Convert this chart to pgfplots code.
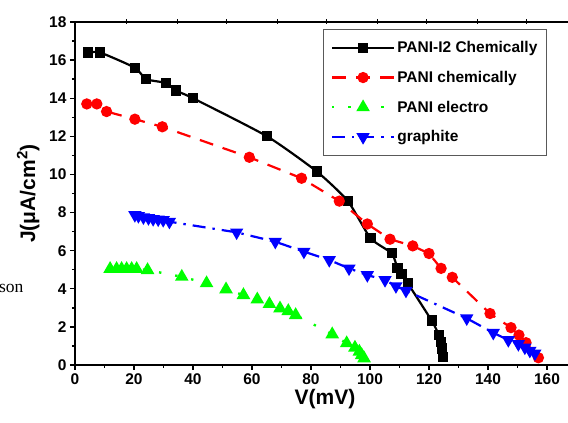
\documentclass[border=0pt]{standalone}
\usepackage{fontspec}
\setmainfont{Liberation Sans}
\newfontfamily\seriffont{Liberation Serif}
\usepackage{pgfplots}
\pgfplotsset{compat=1.18}
\usetikzlibrary{calc}

\begin{document}
\begin{tikzpicture}
\begin{axis}[name=main,
  scale only axis, width=500pt, height=343pt,
  xmin=0, xmax=169.5, ymin=0, ymax=18,
  xtick={0,20,...,160}, ytick={0,2,...,18},
  minor x tick num=1, minor y tick num=1,
  xtick pos=bottom, ytick pos=left,
  tick align=outside,
  major tick length=5pt, minor tick length=3pt,
  tick style={line width=1.4pt, black},
  axis line style={line width=2.2pt},
  /pgf/number format/assume math mode=true,
  tick label style={font=\bfseries\fontsize{15.5}{18}\selectfont},
  xlabel={V(mV)}, ylabel={J(μA/cm\textsuperscript{\fontsize{15}{15}\selectfont 2})},
  label style={font=\bfseries\fontsize{21}{24}\selectfont},
  xlabel style={yshift=2pt},
  ylabel style={yshift=3pt},
  legend style={at={(rel axis cs:0.944,0.98)}, anchor=north east,
    draw=gray!70!black, line width=1.2pt, inner xsep=7pt, inner ysep=10pt,
    font=\bfseries\fontsize{15.5}{17}\selectfont, row sep=13pt, cells={anchor=west}},
  legend image code/.code={\draw[mark repeat=2,mark phase=2,#1] plot coordinates {(0pt,0pt) (31pt,0pt) (62pt,0pt)};},
]
\coordinate (sw) at (rel axis cs:0,0);

\addplot[black, line width=2.2pt, smooth, tension=0.35, mark=square*, mark size=4pt, mark options={solid}] coordinates {
(4.4,16.4) (8.5,16.4) (20.3,15.6) (24.1,15.0) (30.8,14.8) (34.2,14.4) (40.0,14.0)
(65.1,12.0) (82.0,10.15) (92.5,8.6) (100.2,6.65) (107.4,5.86) (109.3,5.07) (110.7,4.77)
(112.8,4.29) (120.9,2.33) (123.4,1.57) (124.1,1.22) (124.4,0.87) (124.8,0.44)};
\addlegendentry{PANI-I2 Chemically}

\addplot[red, line width=2.2pt, dash pattern=on 14pt off 10pt, mark=*, mark size=4.5pt, mark options={solid}] coordinates {
(4.0,13.7) (7.4,13.7) (10.7,13.3) (20.3,12.9) (29.6,12.5) (59.1,10.9) (76.8,9.8)
(89.6,8.6) (99.1,7.4) (106.8,6.6) (114.5,6.25) (120.0,5.85) (124.1,5.07) (127.9,4.6)
(140.7,2.7) (147.8,1.96) (150.5,1.57) (152.9,1.17) (157.1,0.38)};
\addlegendentry{PANI chemically}

\addplot[green, line width=2.4pt, dash pattern=on 2.4pt off 14pt, mark=triangle*, mark size=5.5pt, mark options={solid}] coordinates {
(11.9,5.04) (14.1,5.04) (15.8,5.04) (17.5,5.04) (19.2,5.04) (20.9,5.04) (24.6,4.98)
(36.2,4.63) (44.6,4.29) (51.2,3.97) (57.1,3.67) (61.8,3.44) (65.9,3.2) (69.5,2.97)
(72.3,2.83) (74.8,2.62) (87.2,1.61) (92.1,1.14) (94.9,0.91) (96.4,0.70) (97.2,0.52) (98.0,0.35)};
\addlegendentry{PANI electro}

\addplot[blue, line width=2.2pt, dash pattern=on 13pt off 7pt on 2.4pt off 7pt, mark=triangle*, mark size=5.5pt, mark options={solid, rotate=180}] coordinates {
(20.3,7.87) (21.5,7.82) (23.2,7.75) (24.9,7.71) (26.5,7.66) (28.2,7.64) (29.9,7.61) (32.0,7.52)
(54.8,6.96) (67.9,6.47) (77.6,5.95) (86.2,5.51) (92.9,5.07) (99.1,4.72) (105.1,4.46)
(108.8,4.14) (112.2,3.9) (132.8,2.45) (141.8,1.69) (146.9,1.31) (150.3,1.1) (152.5,0.92)
(154.2,0.75) (155.9,0.61)};
\addlegendentry{graphite}
\end{axis}

\begin{axis}[scale only axis, width=500pt, height=343pt,
  xmin=0, xmax=169.5, ymin=0, ymax=18,
  axis x line*=top, axis y line=none,
  axis line style={line width=2.2pt, -},
  xtick={17.6,34.6,51.5,68.5,85.4,102.4,119.3,136.3,153.2}, xticklabels={},
  tick align=center, major tick length=5pt, tick style={line width=1pt, black}]
\end{axis}

\node[anchor=base east, font=\seriffont\fontsize{17.5}{20}\selectfont] at ($(sw)+(-48pt,72pt)$) {son};

\pgfresetboundingbox
\path[use as bounding box] ($(sw)+(-75pt,-58pt)$) rectangle ($(sw)+(493pt,365pt)$);
\end{tikzpicture}
\end{document}
